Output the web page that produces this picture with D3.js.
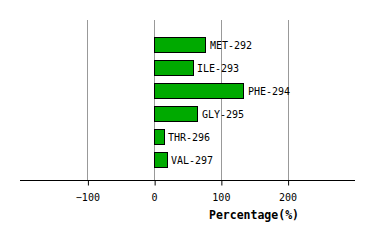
<!DOCTYPE html>
<html><head><meta charset="utf-8">
<script src="https://cdn.jsdelivr.net/npm/d3@7"></script>
<style>body{margin:0;background:#fff}svg{display:block}</style>
</head><body>
<svg id="c" width="374" height="240"></svg>
<script>
const categories = ["MET-292","ILE-293","PHE-294","GLY-295","THR-296","VAL-297"];
const values = [77, 58, 134, 65, 15, 20];
const tickValues = [-100, 0, 100, 200];
const axisTitle = "Percentage(%)";

const svg = d3.select("#c");
const font = "'DejaVu Sans Mono', monospace";
const x = d3.scaleLinear().domain([-201, 301]).range([20, 355]);
const y = d3.scaleBand().domain(categories).range([32.5, 170.5]).paddingInner(15/23*0 + 8/23).paddingOuter(4/23);

// grid
svg.append("g").selectAll("line").data(tickValues).join("line")
  .attr("x1", d => Math.round(x(d)) + 0.5).attr("x2", d => Math.round(x(d)) + 0.5)
  .attr("y1", 20).attr("y2", 180)
  .attr("stroke", "#999").attr("stroke-width", 1);

// bars
svg.append("g").selectAll("rect").data(categories).join("rect")
  .attr("x", d => Math.round(x(0)) + 0.5)
  .attr("y", d => Math.round(y(d)) + 0.5)
  .attr("width", (d, i) => Math.round(x(values[i]) - x(0)))
  .attr("height", Math.round(y.bandwidth()))
  .attr("fill", "#00aa00").attr("stroke", "#000").attr("stroke-width", 1);

// labels
svg.append("g").selectAll("text").data(categories).join("text")
  .attr("x", (d, i) => Math.round(x(values[i])) + 4)
  .attr("y", d => Math.round(y(d)) + y.bandwidth() / 2 + 1)
  .attr("dominant-baseline", "middle")
  .attr("font-family", font).attr("font-size", 10)
  .attr("fill", "#000")
  .text(d => d);

// axis
const axis = d3.axisBottom(x).tickValues(tickValues).tickSize(5).tickSizeOuter(0).tickPadding(8);
const ag = svg.append("g").attr("transform", "translate(0,180.5)").call(axis);
ag.select(".domain").attr("d", "M20,0H355").attr("stroke", "#000");
ag.selectAll(".tick line").attr("stroke", "#000").attr("transform", "translate(0.5,0)");
ag.selectAll(".tick text").attr("font-family", font).attr("font-size", 10).attr("fill", "#000");

svg.append("text").attr("x", 254).attr("y", 219)
  .attr("text-anchor", "middle")
  .attr("font-family", font).attr("font-size", 11.5).attr("font-weight", "bold")
  .text(axisTitle);
</script>
</body></html>
